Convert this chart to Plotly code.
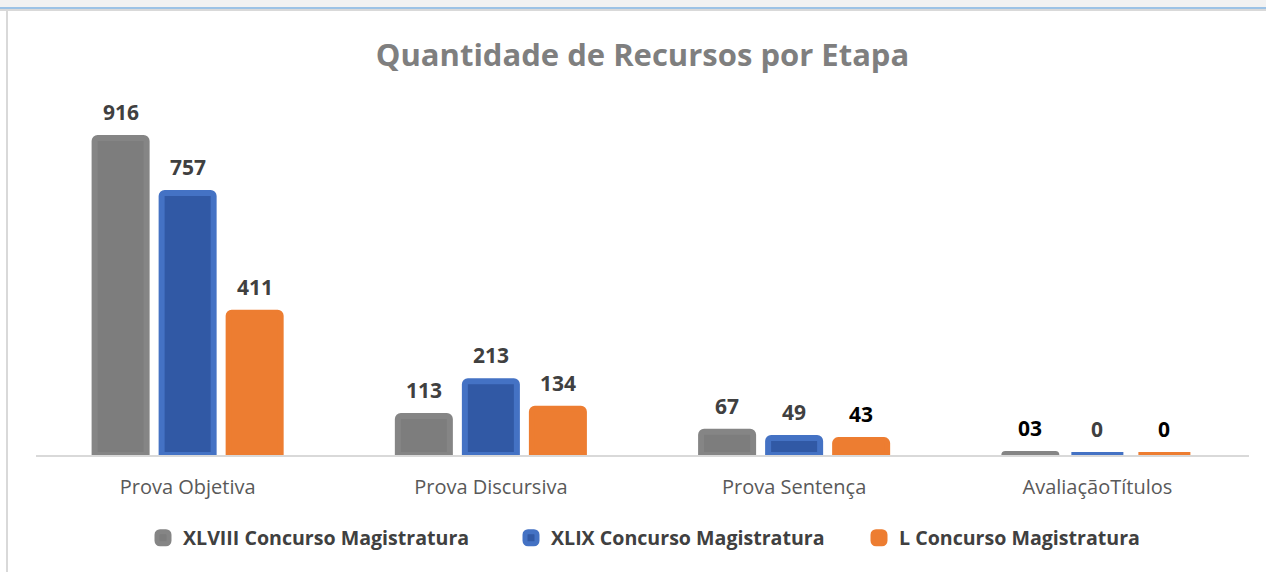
import plotly.graph_objects as go

categories = ["Prova Objetiva", "Prova Discursiva", "Prova Sentença", "AvaliaçãoTítulos"]
series_names = ["XLVIII Concurso Magistratura", "XLIX Concurso Magistratura", "L Concurso Magistratura"]
values_xlviii = [916, 113, 67, 3]
values_xlix = [757, 213, 49, 0]
values_l = [411, 134, 43, 0]
labels_xlviii = ["916", "113", "67", "03"]
labels_xlix = ["757", "213", "49", "0"]
labels_l = ["411", "134", "43", "0"]

FONT = "Open Sans"
fills = ["#7d7d7d", "#3159a5", "#ed7d31"]
lines = ["#858585", "#4472c4", "#ed7d31"]
label_colors = [
    ["#404040", "#404040", "#404040", "#000000"],
    ["#404040", "#404040", "#404040", "#404040"],
    ["#404040", "#404040", "#000000", "#000000"],
]
all_values = [values_xlviii, values_xlix, values_l]
all_labels = [labels_xlviii, labels_xlix, labels_l]
legend_ids = ["legend", "legend2", "legend3"]
legend_marker_px = [157, 525, 873]

fig = go.Figure()
for i, name in enumerate(series_names):
    fig.add_trace(go.Bar(
        x=categories, y=all_values[i], name="<b>%s</b>" % name,
        marker=dict(color=fills[i], line=dict(color=lines[i], width=6), cornerradius=3),
        hoverinfo="skip", legend=legend_ids[i],
    ))

shifts = [-67, 0, 67]
for i in range(3):
    for j, cat in enumerate(categories):
        fig.add_annotation(
            x=cat, y=all_values[i][j], text="<b>%s</b>" % all_labels[i][j],
            showarrow=False, xshift=shifts[i], yshift=26, yanchor="middle",
            font=dict(family=FONT, size=21, color=label_colors[i][j]),
        )

PH = 346.0
PW = 1213.0
T = 109.0
L = 36.0
def py(pix):
    return 1.0 + (T - pix) / PH
def px(pix):
    return (pix - L) / PW

# window chrome
fig.add_shape(type="rect", xref="paper", yref="paper", x0=-0.1, x1=1.1, y0=py(7), y1=py(-10),
              fillcolor="#f2f2f2", line=dict(width=0), layer="above")
fig.add_shape(type="line", xref="paper", yref="paper", x0=-0.1, x1=1.1,
              y0=py(8), y1=py(8), line=dict(color="#9dc3e6", width=2))
fig.add_shape(type="line", xref="paper", yref="paper", x0=-0.1, x1=1.1,
              y0=py(10), y1=py(10), line=dict(color="#d9d9d9", width=2))
fig.add_shape(type="line", xref="paper", yref="paper", x0=px(7), x1=px(7),
              y0=py(600), y1=py(10), line=dict(color="#d9d9d9", width=2))

legend_common = dict(orientation="h", xanchor="left", y=py(538), yanchor="middle",
                     font=dict(family=FONT, size=19.6, color="#404040"), itemwidth=30,
                     bgcolor="rgba(0,0,0,0)")

fig.update_layout(
    width=1266, height=572,
    margin=dict(l=36, r=17, t=109, b=117),
    paper_bgcolor="white", plot_bgcolor="white",
    barmode="group", bargap=0.337, bargroupgap=0.224,
    title=dict(text="<b>Quantidade de Recursos por Etapa</b>", x=0.5, xref="paper", xanchor="center",
               y=1 - 55 / 572, yanchor="middle",
               font=dict(family=FONT, size=31, color="#7f7f7f")),
    font=dict(family=FONT, color="#595959"),
    xaxis=dict(showline=True, linecolor="#d9d9d9", linewidth=2, ticks="", showgrid=False,
               tickfont=dict(family=FONT, size=20, color="#595959"), ticklabelstandoff=13),
    yaxis=dict(range=[0, 1000], visible=False, showgrid=False, zeroline=False),
    legend=dict(x=px(legend_marker_px[0] - 14), **legend_common),
    legend2=dict(x=px(legend_marker_px[1] - 14), **legend_common),
    legend3=dict(x=px(legend_marker_px[2] - 14), **legend_common),
    showlegend=True,
)
fig.write_html("out.html", post_script="document.body.style.margin='0';",
               config={"displayModeBar": False})
